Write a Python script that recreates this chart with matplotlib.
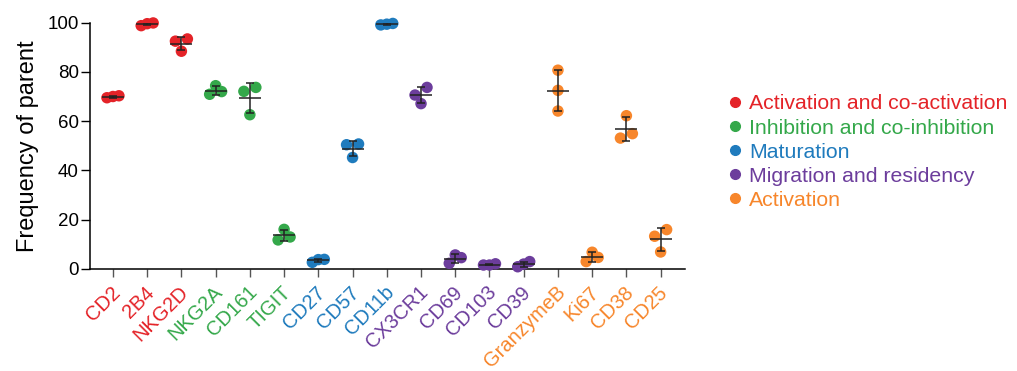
import numpy as np
import matplotlib
matplotlib.use("Agg")
import matplotlib.pyplot as plt
import matplotlib.transforms as mtransforms
from matplotlib.lines import Line2D

plt.rcParams['font.family'] = ['Liberation Sans', 'DejaVu Sans']

markers = ["CD2", "2B4", "NKG2D", "NKG2A", "CD161", "TIGIT", "CD27", "CD57", "CD11b",
           "CX3CR1", "CD69", "CD103", "CD39", "GranzymeB", "Ki67", "CD38", "CD25"]
groups = [0, 0, 0, 1, 1, 1, 2, 2, 2, 3, 3, 3, 3, 4, 4, 4, 4]
values = [
    [69.5, 70.3, 70.0],
    [98.8, 99.9, 99.6],
    [93.4, 88.4, 92.5],
    [70.9, 74.4, 72.0],
    [73.7, 62.6, 72.1],
    [16.0, 11.7, 12.9],
    [2.6, 3.8, 3.7],
    [50.7, 45.2, 50.4],
    [99.1, 99.7, 99.4],
    [73.7, 67.1, 70.6],
    [2.2, 5.6, 4.5],
    [1.5, 2.0, 1.5],
    [0.8, 2.9, 1.9],
    [80.7, 72.5, 64.1],
    [2.9, 6.7, 4.6],
    [62.2, 53.1, 54.9],
    [15.9, 6.8, 13.2],
]
group_names = ["Activation and co-activation", "Inhibition and co-inhibition",
               "Maturation", "Migration and residency", "Activation"]
group_colors = ["#e42328", "#34a84a", "#1f7bbd", "#6c3d9c", "#f7862b"]

fig = plt.figure(figsize=(10.17, 3.71), dpi=100)
ax = fig.add_axes([0.0885, 0.2757, 0.585, 0.6631])
ax.set_xlim(-0.67, 16.71)
ax.set_ylim(0, 100)

# px per data unit, used to spread overlapping dots sideways
ypx = 245.0 / 100
step = 0.175
for i, vals in enumerate(values):
    vals = np.array(vals)
    order = np.argsort(vals)
    xs = np.zeros(len(vals))
    rows = []
    for k in order:
        if rows and (vals[k] - vals[rows[-1][0]]) * ypx < 8:
            rows[-1].append(k)
        else:
            rows.append([k])
    for row in rows:
        if len(row) > 1:
            offs = np.linspace(-step, step, len(row))
            for k, o in zip(row, offs):
                xs[k] = o
    col = group_colors[groups[i]]
    ax.scatter(i + xs, vals, s=68, color=col, edgecolors='none', zorder=3, clip_on=False)
    m = vals.mean()
    sd = vals.std(ddof=1)
    ax.errorbar(i, m, yerr=sd, fmt='none', ecolor='#222222', elinewidth=1.1,
                capsize=3, capthick=1.1, zorder=4)
    ax.hlines(m, i - 0.32, i + 0.32, color='#222222', lw=1.1, zorder=4)

for s in ['top', 'right']:
    ax.spines[s].set_visible(False)
for s in ['left', 'bottom']:
    ax.spines[s].set_linewidth(1.1)
ax.set_yticks([0, 20, 40, 60, 80, 100])
ax.tick_params(axis='y', labelsize=13.5, length=6.5, width=1, pad=1.5)
ax.tick_params(axis='x', length=5.4, width=1, colors='#555555', pad=9.5)
ax.set_xticks(range(len(markers)))
ax.set_xticklabels(markers, rotation=45, ha='right', va='center',
                   rotation_mode='anchor', fontsize=14.5)
shift = mtransforms.ScaledTranslation(3 / 72, 0, fig.dpi_scale_trans)
for lab, g in zip(ax.get_xticklabels(), groups):
    lab.set_color(group_colors[g])
    lab.set_transform(lab.get_transform() + shift)
ax.set_ylabel("Frequency of parent", fontsize=17, labelpad=6)

handles = [Line2D([], [], marker='o', ls='none', color=c, markersize=7) for c in group_colors]
leg = fig.legend(handles, group_names, loc='center left', bbox_to_anchor=(0.698, 0.59),
                 frameon=False, fontsize=15.3, handlelength=0.6, handletextpad=0.35,
                 labelspacing=0.24)
for t, c in zip(leg.get_texts(), group_colors):
    t.set_color(c)

fig.savefig("out.png", dpi=100)
